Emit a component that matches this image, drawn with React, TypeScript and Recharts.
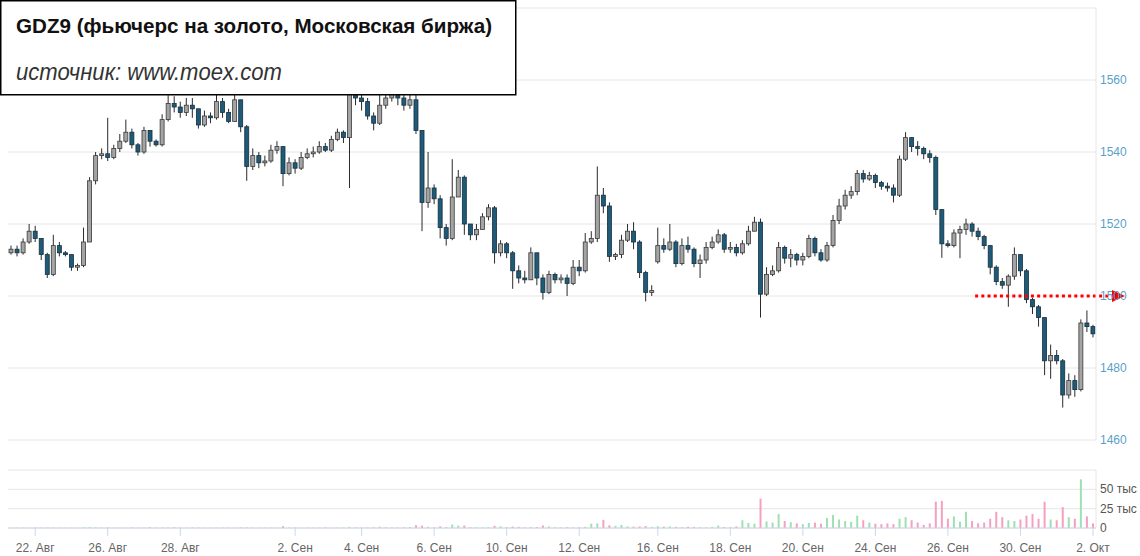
import React from 'react';
import { ComposedChart, Bar, XAxis, YAxis, CartesianGrid, ReferenceLine, Cell } from 'recharts';

// ---- data (hourly-ish candles, GDZ9) ----
const firstOpen = 1512;
const gapOpens: Record<number, number> = { 107: 1509.5 };

const closes = [
  1513, 1512, 1515, 1518, 1516, 1511.5, 1506, 1514, 1512, 1511.5,
  1508, 1508.5, 1515, 1532, 1539, 1539.5, 1538.5, 1541, 1543, 1545.5,
  1542, 1540, 1546, 1543, 1542, 1549, 1553.5, 1552.5, 1551, 1553,
  1552, 1547.5, 1550, 1549.5, 1554, 1551, 1548.5, 1554.5, 1547, 1536,
  1539, 1537, 1537.5, 1540.5, 1541.5, 1534, 1537, 1535.5, 1538.5, 1539.5,
  1540, 1541.5, 1540.5, 1543.5, 1545.5, 1544, 1556, 1555, 1554, 1550,
  1548, 1553, 1555, 1556.5, 1555, 1553, 1554.5, 1546, 1526, 1530,
  1527, 1519, 1516, 1527.5, 1533, 1520, 1517, 1518.5, 1522, 1524.5,
  1512, 1514.5, 1512, 1507, 1505, 1504.5, 1512, 1505, 1501, 1506,
  1504.5, 1505, 1503.5, 1508, 1507, 1515, 1516, 1528, 1525, 1511,
  1511.5, 1515.5, 1518, 1515, 1506.5, 1501, 1501.5, 1514, 1513, 1515,
  1509, 1514, 1513, 1509, 1510, 1513.5, 1515, 1517, 1513, 1513.5,
  1512, 1514.5, 1518, 1520.5, 1500.5, 1506, 1507, 1513.5, 1510.5, 1511.5,
  1510, 1511, 1516, 1512, 1510, 1514, 1521, 1525, 1528, 1529,
  1534, 1532.5, 1533.5, 1531.5, 1530.5, 1530, 1528, 1538, 1544, 1541.5,
  1541, 1539.5, 1538.5, 1524, 1514.5, 1514, 1517.5, 1518.5, 1520, 1518,
  1516.5, 1514, 1508, 1504, 1503, 1505.5, 1511.5, 1507, 1499, 1497,
  1494, 1482, 1483.5, 1482, 1472.5, 1476.5, 1474, 1492.5, 1491.5, 1489.5,
];

const highs = [
  1514, 1514, 1516, 1520, 1519.5, 1516, 1512, 1517, 1515, 1512.5,
  1510, 1509, 1519, 1533, 1540, 1541, 1549.5, 1542, 1545, 1549,
  1546.5, 1542.5, 1547, 1545, 1543.5, 1550.5, 1556, 1555.5, 1554, 1555,
  1555, 1552, 1551.5, 1551, 1556.5, 1555, 1552, 1558, 1554, 1547.5,
  1541, 1540, 1539, 1542, 1543, 1541.5, 1538.5, 1538, 1540, 1541,
  1541.5, 1543, 1542.5, 1544.5, 1546.5, 1546, 1558, 1559, 1557, 1555,
  1551, 1556, 1558, 1559, 1558.5, 1556, 1556.5, 1556, 1546, 1540,
  1531, 1528, 1520, 1538, 1535, 1533.5, 1520, 1520, 1523, 1525.5,
  1525, 1515.5, 1515, 1512.5, 1508.5, 1507, 1513.5, 1512, 1506, 1507,
  1506.5, 1506, 1506, 1510, 1510, 1517.5, 1518, 1536, 1530, 1526,
  1512, 1517, 1520, 1520.5, 1515.5, 1507, 1503, 1519, 1516, 1520,
  1515.5, 1516, 1516.5, 1513.5, 1511.5, 1515, 1516.5, 1518.5, 1517.5, 1515,
  1514.5, 1515.5, 1519.5, 1522, 1521.5, 1508, 1508.5, 1515, 1514, 1513,
  1512, 1512, 1517, 1516.5, 1513, 1515, 1522.5, 1527, 1529.5, 1530.5,
  1535, 1535, 1534.5, 1534, 1532, 1531.5, 1531, 1539, 1545.5, 1544,
  1543, 1541.5, 1540.5, 1539, 1524, 1515.5, 1518.5, 1519.5, 1521.5, 1520.5,
  1519, 1517, 1514, 1508.5, 1505, 1506, 1513.5, 1511.5, 1507.5, 1499.5,
  1497.5, 1494, 1486.5, 1485, 1482.5, 1478.5, 1478, 1493.5, 1496, 1492,
];

const lows = [
  1511.5, 1511, 1511.5, 1514.5, 1515, 1510, 1505, 1505.5, 1511, 1511,
  1507, 1507, 1508, 1515, 1531, 1538, 1537.5, 1538, 1540, 1542.5,
  1541, 1539, 1539.5, 1541.5, 1541.5, 1541.5, 1548.5, 1551, 1549.5, 1550,
  1549.5, 1546.5, 1547, 1548, 1549, 1549.5, 1548, 1548.5, 1545.5, 1532,
  1535, 1535.5, 1536, 1537, 1539.5, 1530.5, 1533.5, 1534, 1535, 1538,
  1538.5, 1539.5, 1540, 1540, 1543, 1542.5, 1530, 1553, 1551.5, 1549,
  1546, 1547.5, 1552, 1554, 1553, 1551.5, 1552, 1545, 1518, 1524.5,
  1525.5, 1516, 1514, 1515.5, 1529.5, 1517, 1515.5, 1515.5, 1518.5, 1521,
  1509, 1511, 1510.5, 1502, 1503.5, 1503.5, 1504.5, 1503, 1499, 1500.5,
  1503.5, 1503.5, 1500, 1503, 1505.5, 1506.5, 1514.5, 1515, 1523, 1509.5,
  1510, 1510.5, 1515, 1513, 1505, 1498.5, 1500, 1509, 1512, 1512.5,
  1508, 1508.5, 1512, 1508, 1505, 1509, 1513, 1514.5, 1512, 1512,
  1511, 1511.5, 1514, 1518.5, 1494, 1500, 1505.5, 1506.5, 1509, 1508,
  1508.5, 1508.5, 1510.5, 1511, 1509.5, 1509.5, 1513.5, 1520, 1524, 1527,
  1528, 1531.5, 1532, 1530, 1529.5, 1529, 1526, 1527.5, 1537.5, 1540,
  1539, 1538, 1537, 1522.5, 1510.6, 1513.5, 1513.5, 1510.5, 1517, 1516.5,
  1515.5, 1513, 1506, 1503, 1502, 1497, 1504.5, 1505.5, 1498, 1495,
  1491.5, 1478, 1477, 1481, 1469, 1471.5, 1472, 1473.5, 1490, 1488.5,
];

// volume, thousands of contracts
const volumes = [
  0.3, 0.2, 0.4, 0.3, 0.5, 0.3, 0.4, 0.6, 0.3, 0.2, 0.3, 0.2, 0.8,
  1.2, 0.9, 0.4, 0.7, 0.3, 0.4, 0.3, 0.6, 0.3, 0.5, 1.0, 0.4, 0.6,
  0.5, 0.8, 0.4, 0.3, 0.5, 0.6, 0.3, 0.4, 0.3, 0.5, 0.4, 0.3, 0.6, 0.8, 0.5,
  0.4, 0.3, 0.5, 0.4, 2.2, 0.6, 0.4, 0.3, 0.5, 0.3, 0.4, 0.6, 0.3, 0.5, 0.4,
  1.5, 0.8, 0.6, 0.4, 0.7, 1.8, 0.9, 0.6, 0.5, 0.8, 1.2, 3.5, 3.0, 1.5, 0.8,
  2.2, 1.0, 4.5, 3.0, 3.2, 1.0, 0.8, 0.6, 0.9, 2.8, 2.2, 1.0, 1.8, 1.5, 0.7,
  1.0, 1.2, 3.2, 2.0, 0.8, 0.6, 0.9, 0.7, 0.8, 1.5, 5.5, 6.0, 10.5, 3.5, 2.8,
  4.0, 2.2, 1.8, 2.0, 2.5, 1.5, 2.2, 1.8, 2.0, 1.5, 1.2, 1.6, 1.4, 1.0, 0.8,
  1.5, 3.2, 1.2, 1.0, 2.0, 10.0, 6.5, 5.5, 38, 8.5, 7.0, 18, 9, 7.5, 6,
  5, 6.5, 7, 5.5, 13, 17, 11, 9, 8, 16, 10, 7, 5.5, 5, 6,
  5, 12, 14, 10, 7, 4, 6, 34, 35, 12, 15, 8, 21, 9, 6,
  7, 12, 21, 14, 10, 9, 11, 16, 18, 12, 34, 11, 10, 27, 14, 12, 63, 15, 6,
];

const tickIndex = [4, 16, 28, 47, 58, 70, 82, 94, 107, 119, 131, 143, 155, 167, 179];
const tickLabels = ['22. Авг', '26. Авг', '28. Авг', '2. Сен', '4. Сен', '6. Сен', '10. Сен', '12. Сен', '16. Сен', '18. Сен', '20. Сен', '24. Сен', '26. Сен', '30. Сен', '2. Окт'];
const priceTicks = [1460, 1480, 1500, 1520, 1540, 1560, 1580];
const volumeTicks = [0, 25, 50, 75];
const signalLevel = 1500;
const signalFrom = 160;
const signalTo = 179;

const titleText = 'GDZ9 (фьючерс на золото, Московская биржа)';
const sourceText = 'источник: www.moex.com';

const data = closes.map((c, i) => {
  const o = gapOpens[i] ?? (i === 0 ? firstOpen : closes[i - 1]);
  const h = Math.max(highs[i], o, c);
  const l = Math.min(lows[i], o, c);
  return { i, o, c, h, l, range: [l, h], v: volumes[i], up: c >= o };
});

const UP_FILL = '#a4a4a4';
const UP_STROKE = '#3a3a3a';
const DOWN_FILL = '#1f5a78';
const DOWN_STROKE = '#15303f';
const FONT = 'Liberation Sans, Arial, sans-serif';

const Candle = (props: any) => {
  const { x, y, width, height, payload } = props;
  if (x == null || y == null || !payload) return null;
  const top = Math.min(y, y + height);
  const bot = Math.max(y, y + height);
  const { o, c, h, l } = payload;
  const span = h - l || 1;
  const py = (v: number) => top + ((h - v) / span) * (bot - top);
  const cx = x + width / 2;
  const yo = py(o);
  const yc = py(c);
  const bt = Math.min(yo, yc);
  const bh = Math.max(1, Math.abs(yo - yc));
  const up = c >= o;
  return (
    <g>
      <line x1={cx} x2={cx} y1={top} y2={bot} stroke="#2a2a2a" strokeWidth={1} />
      <rect
        x={x}
        y={bt}
        width={width}
        height={bh}
        fill={up ? UP_FILL : DOWN_FILL}
        stroke={up ? UP_STROKE : DOWN_STROKE}
        strokeWidth={0.8}
      />
    </g>
  );
};

const SignalArrow = (props: any) => {
  const { x1, x2, y1 } = props;
  if (x1 == null) return null;
  const end = x2 + 19;
  return (
    <g>
      <line x1={x1 - 3} x2={end} y1={y1} y2={y1} stroke="#ff0000" strokeWidth={3} strokeDasharray="3 3.2" />
      <polygon points={`${end},${y1 - 6} ${end + 13},${y1} ${end},${y1 + 6}`} fill="#ff0000" />
    </g>
  );
};

const fmtDate = (v: any) => {
  const k = tickIndex.indexOf(Number(v));
  return k >= 0 ? tickLabels[k] : '';
};

const fmtVol = (v: number) => (v === 0 ? '0' : v === 75 ? '' : `${v} тыс`);

const VolTick = (props: any) => {
  const { x, y, payload } = props;
  return (
    <text x={x} y={y} dy={4} fill="#555" fontSize={12} fontFamily={FONT} textAnchor="start">
      {fmtVol(payload.value)}
    </text>
  );
};

const PriceTick = (props: any) => {
  const { x, y, payload } = props;
  if (payload.value === 1580) return null;
  return (
    <text x={x} y={y} dy={4} fill="#5a9fc8" fontSize={12} fontFamily={FONT} textAnchor="start">
      {String(payload.value)}
    </text>
  );
};

export default function App() {
  return (
    <div style={{ position: 'absolute', left: 0, top: 0, width: 1140, height: 556, background: '#fff', fontFamily: FONT }}>
      <div style={{ position: 'absolute', left: 0, top: 0 }}>
        <ComposedChart width={1140} height={450} data={data} margin={{ top: 8, right: 0, bottom: 10, left: 8 }} barCategoryGap={0}>
          <CartesianGrid vertical={false} stroke="#e6e6e6" />
          <XAxis dataKey="i" hide />
          <YAxis
            orientation="right"
            domain={[1460, 1580]}
            ticks={priceTicks}
            allowDataOverflow
            width={44}
            axisLine={{ stroke: '#e6e6e6' }}
            tickLine={false}
            tickSize={2}
            tickMargin={2}
            interval={0}
            tick={PriceTick}
          />
          <Bar dataKey="range" barSize={4} shape={Candle} isAnimationActive={false} />
          <ReferenceLine
            segment={[{ x: signalFrom, y: signalLevel }, { x: signalTo, y: signalLevel }]}
            shape={SignalArrow}
          />
        </ComposedChart>
      </div>
      <div style={{ position: 'absolute', left: 0, top: 458 }}>
        <ComposedChart width={1140} height={98} data={data} margin={{ top: 12, right: 0, bottom: 0, left: 8 }}>
          <CartesianGrid vertical={false} stroke="#e6e6e6" />
          <XAxis
            dataKey="i"
            ticks={tickIndex}
            interval={0}
            tickFormatter={fmtDate}
            height={28}
            tickSize={8}
            tickMargin={7}
            axisLine={{ stroke: '#ccd6eb' }}
            tickLine={{ stroke: '#ccd6eb' }}
            tick={{ fill: '#666', fontSize: 12, fontFamily: FONT }}
          />
          <YAxis
            orientation="right"
            domain={[0, 75]}
            ticks={volumeTicks}
            allowDataOverflow
            width={44}
            axisLine={{ stroke: '#e6e6e6' }}
            tickLine={false}
            tickSize={2}
            tickMargin={2}
            interval={0}
            tick={VolTick}
          />
          <Bar dataKey="v" barSize={2} isAnimationActive={false}>
            {data.map((d) => (
              <Cell key={d.i} fill={d.up ? '#9fe0b3' : '#f5a0bd'} />
            ))}
          </Bar>
        </ComposedChart>
      </div>
      <svg style={{ position: 'absolute', left: 0, top: 0 }} width={518} height={97}>
        <rect x={0.75} y={0.75} width={515} height={94} fill="#fff" stroke="#000" strokeWidth={1.5} />
        <text x={16} y={33} fontFamily={FONT} fontWeight={700} fontSize={21} fill="#111" textLength={476} lengthAdjust="spacingAndGlyphs">
          {titleText}
        </text>
        <text x={16} y={80} fontFamily={FONT} fontStyle="italic" fontSize={23} fill="#333" textLength={266} lengthAdjust="spacingAndGlyphs">
          {sourceText}
        </text>
      </svg>
    </div>
  );
}
